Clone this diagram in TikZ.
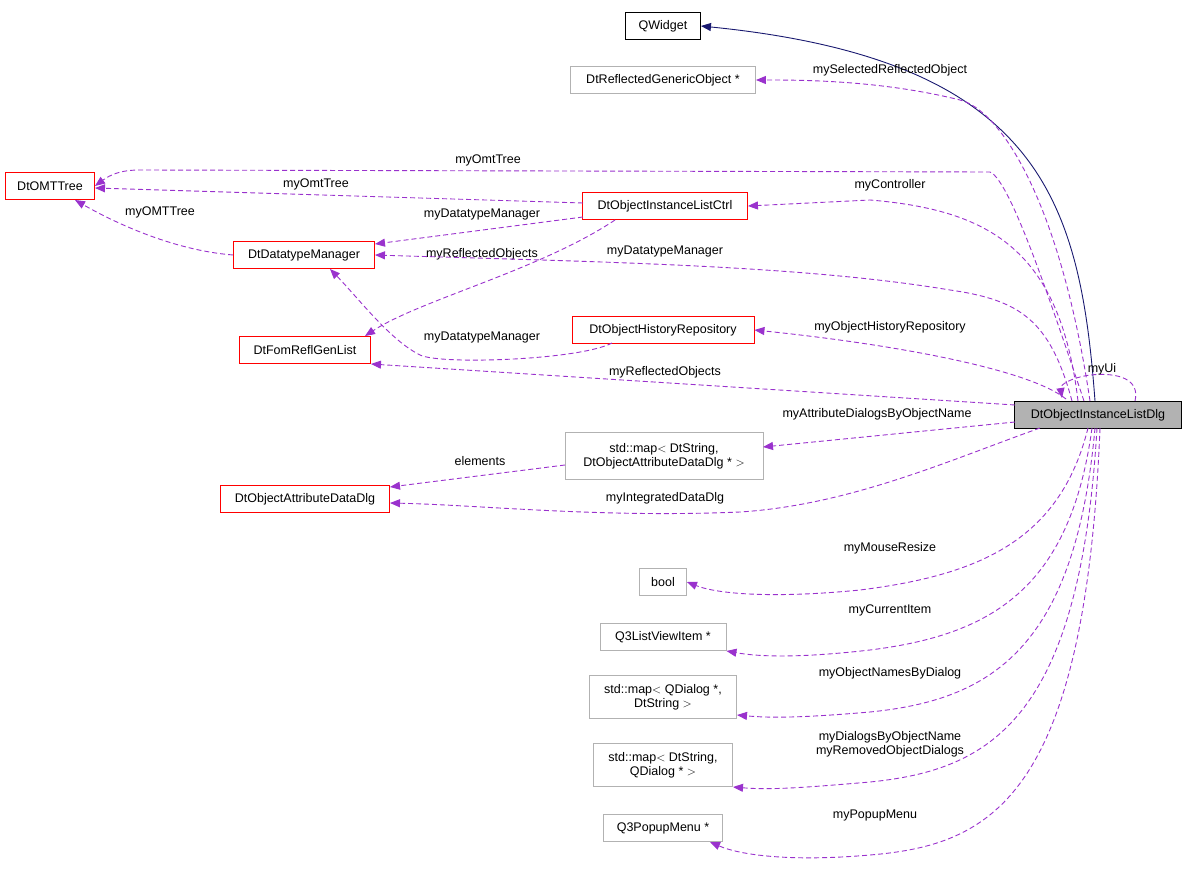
\documentclass[tikz,border=0pt]{standalone}
\usepackage{fontspec}
\setmainfont{Liberation Sans}
\usetikzlibrary{arrows.meta}
\definecolor{orch}{HTML}{9A32CD}
\definecolor{navy}{HTML}{191970}
\begin{document}
\begin{tikzpicture}[x=1pt,y=-1pt,
  every node/.style={font=\fontsize{12.5}{14}\selectfont},
  box/.style={draw, rectangle, minimum height=27pt, inner xsep=4pt, align=center, line width=0.9pt},
  red/.style={box, draw=red},
  gray/.style={box, draw=black!30},
  dep/.style={draw=orch, line width=0.9pt, dash pattern=on 5pt off 3pt, -{Triangle[length=10pt,width=8pt,fill=orch]}},
  inh/.style={draw=navy, line width=0.9pt, -{Triangle[length=10pt,width=8pt,fill=navy]}},
  lab/.style={inner sep=1pt}]
\useasboundingbox (0,0) rectangle (1187,872);
\node[box, minimum width=75pt] (qw) at (663,26) {QWidget};
\node[gray, minimum width=185pt] (rgo) at (663,80) {DtReflectedGenericObject *};
\node[red, minimum width=89pt] (omt) at (50,186) {DtOMTTree};
\node[red, minimum width=165pt] (ctrl) at (665,206) {DtObjectInstanceListCtrl};
\node[red, minimum width=141pt] (dtm) at (304,255) {DtDatatypeManager};
\node[red, minimum width=131pt] (frg) at (305,350) {DtFomReflGenList};
\node[red, minimum width=182pt] (hist) at (663,330) {DtObjectHistoryRepository};
\node[box, fill=black!30, minimum width=167pt] (dlg) at (1098,415) {DtObjectInstanceListDlg};
\node[gray, minimum height=47pt, minimum width=198pt] (map1) at (664,456) {std::map$<$ DtString,\\DtObjectAttributeDataDlg * $>$};
\node[red, minimum width=169pt] (adlg) at (305,499) {DtObjectAttributeDataDlg};
\node[gray, minimum width=47pt] (bool) at (663,582) {bool};
\node[gray, minimum width=126pt] (lvi) at (663,637) {Q3ListViewItem *};
\node[gray, minimum height=43pt, minimum width=147pt] (map2) at (663,697) {std::map$<$ QDialog *,\\DtString $>$};
\node[gray, minimum height=43pt, minimum width=139pt] (map3) at (663,765) {std::map$<$ DtString,\\QDialog * $>$};
\node[gray, minimum width=119pt] (pop) at (663,828) {Q3PopupMenu *};

\draw[inh] (1095,401) .. controls (1080,200) and (1040,60) .. (qw.east);
\draw[dep] (1090,401) .. controls (1060,200) and (1000,110) .. (960,100) .. controls (880,80) and (800,80) .. (rgo.east);
\node[lab] at (890,70) {mySelectedReflectedObject};
\draw[dep] (1084,401) .. controls (1050,300) and (1010,180) .. (990,172) -- (140,170) .. controls (120,170) and (110,175) .. (omt.east);
\node[lab] at (488,160) {myOmtTree};
\draw[dep] (583,203) -- (95,188);
\node[lab] at (316,184) {myOmtTree};
\draw[dep] (dtm.west) .. controls (170,250) and (110,220) .. (75,200);
\node[lab] at (160,212) {myOMTTree};
\draw[dep] (583,217) -- (375,244);
\node[lab] at (482,214) {myDatatypeManager};
\draw[dep] (615,220) .. controls (540,270) and (420,300) .. (365,336);
\node[lab] at (482,254) {myReflectedObjects};
\draw[dep] (1078,401) .. controls (1060,250) and (990,210) .. (870,200) -- (ctrl.east);
\node[lab] at (890,185) {myController};
\draw[dep] (1072,401) .. controls (1050,320) and (1020,300) .. (950,290) .. controls (800,265) and (600,262) .. (dtm.east);
\node[lab] at (665,251) {myDatatypeManager};
\draw[dep] (612,343) .. controls (580,360) and (440,365) .. (420,355) .. controls (390,340) and (360,300) .. (330,269);
\node[lab] at (482,337) {myDatatypeManager};
\draw[dep] (1066,399) .. controls (1030,370) and (900,345) .. (hist.east);
\node[lab] at (890,327) {myObjectHistoryRepository};
\draw[dep] (1015,405) -- (frg.east |- 0,364);
\node[lab] at (665,372) {myReflectedObjects};
\draw[dep] (1135,401) .. controls (1140,380) and (1120,372) .. (1090,375) .. controls (1070,378) and (1060,385) .. (1062,398);
\node[lab] at (1102,369) {myUi};
\draw[dep] (1015,422) -- (763,447);
\node[lab] at (877,414) {myAttributeDialogsByObjectName};
\draw[dep] (565,465) -- (390,487);
\node[lab] at (480,461) {elements};
\draw[dep] (1040,428) .. controls (950,460) and (850,505) .. (740,512) .. controls (600,518) and (480,505) .. (390,503);
\node[lab] at (665,498) {myIntegratedDataDlg};
\draw[dep] (1088,428) .. controls (1060,540) and (980,575) .. (860,590) .. controls (780,598) and (720,595) .. (bool.east);
\node[lab] at (890,548) {myMouseResize};
\draw[dep] (1092,428) .. controls (1070,590) and (990,635) .. (870,650) .. controls (800,658) and (760,657) .. (lvi.south east);
\node[lab] at (890,610) {myCurrentItem};
\draw[dep] (1095,428) .. controls (1075,650) and (990,700) .. (870,712) .. controls (800,718) and (770,718) .. (737,715);
\node[lab] at (890,673) {myObjectNamesByDialog};
\draw[dep] (1097,428) .. controls (1080,720) and (990,770) .. (870,782) .. controls (800,788) and (770,790) .. (733,787);
\node[lab, align=center] at (890,744) {myDialogsByObjectName\\myRemovedObjectDialogs};
\draw[dep] (1100,428) .. controls (1085,800) and (990,845) .. (870,855) .. controls (790,862) and (740,855) .. (710,842);
\node[lab] at (875,815) {myPopupMenu};
\end{tikzpicture}
\end{document}
